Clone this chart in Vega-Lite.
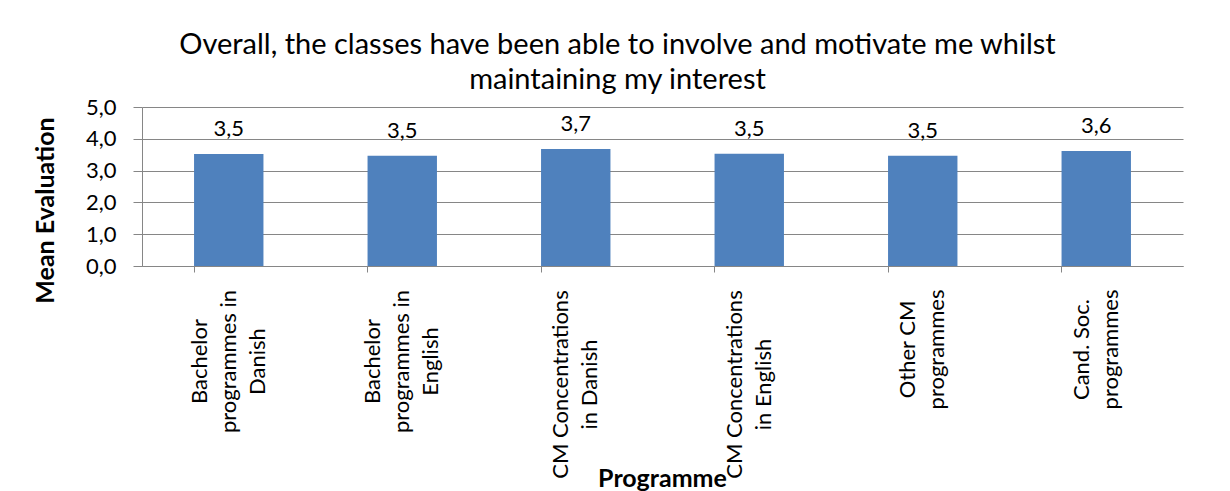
{
  "$schema": "https://vega.github.io/schema/vega-lite/v6.json",
  "autosize": "none",
  "width": 1041,
  "height": 159,
  "padding": {"left": 142, "top": 107, "right": 47, "bottom": 225},
  "background": "white",
  "config": {
    "font": "Lato",
    "view": {"stroke": null},
    "locale": {"number": {"decimal": ",", "thousands": ".", "grouping": [3], "currency": ["", " kr."]}}
  },
  "title": {
    "text": ["Overall, the classes have been able to involve and motivate me whilst", "maintaining my interest"],
    "fontSize": 29,
    "fontWeight": "normal",
    "font": "Lato",
    "color": "black",
    "anchor": "middle",
    "dx": -45,
    "lineHeight": 35,
    "offset": 1
  },
  "data": {
    "values": [
      {"programme": "Bachelor programmes in Danish", "mean": 3.52},
      {"programme": "Bachelor programmes in English", "mean": 3.47},
      {"programme": "CM Concentrations in Danish", "mean": 3.68},
      {"programme": "CM Concentrations in English", "mean": 3.53},
      {"programme": "Other CM programmes", "mean": 3.47},
      {"programme": "Cand. Soc. programmes", "mean": 3.62}
    ]
  },
  "encoding": {
    "x": {
      "field": "programme",
      "type": "nominal",
      "sort": null,
      "scale": {"paddingInner": 0.6, "paddingOuter": 0.3},
      "axis": {
        "title": "Programme",
        "titleFontSize": 25,
        "titleFontWeight": "bold",
        "titleColor": "black",
        "titleX": 520,
        "titleY": 212,
        "titleBaseline": "middle",
        "titleAlign": "center",
        "labelExpr": "split(replace(replace(replace(replace(datum.label,'Bachelor programmes in ','Bachelor|programmes in|'),'CM Concentrations in ','CM Concentrations|in '),'Other CM programmes','Other CM|programmes'),'Cand. Soc. programmes','Cand. Soc.|programmes'),'|')",
        "labelAngle": -90,
        "labelAlign": "center",
        "labelBaseline": "middle",
        "labelFontSize": 22,
        "labelLineHeight": 29,
        "labelColor": "black",
        "labelPadding": {
          "condition": [
            {"test": "indexof(datum.value,'Bachelor')==0", "value": 89},
            {"test": "indexof(datum.value,'CM Conc')==0", "value": 112}
          ],
          "value": 77
        },
        "labelOffset": {
          "condition": {"test": "indexof(datum.value,'Bachelor')==0", "value": -29},
          "value": -14.5
        },
        "labelLimit": 0,
        "tickSize": 6,
        "tickColor": "#868686",
        "domainColor": "#868686",
        "bandPosition": 0,
        "grid": false
      }
    },
    "y": {
      "field": "mean",
      "type": "quantitative",
      "scale": {"domain": [0, 5]},
      "axis": {
        "title": "Mean Evaluation",
        "titleFontSize": 25,
        "titleFontWeight": "bold",
        "titleColor": "black",
        "titleX": -97,
        "titleY": 103,
        "titleAngle": -90,
        "titleAlign": "center",
        "titleBaseline": "middle",
        "values": [0, 1, 2, 3, 4, 5],
        "format": ".1f",
        "labelFontSize": 22,
        "labelColor": "black",
        "labelPadding": 17,
        "tickSize": 9,
        "tickColor": "#868686",
        "domainColor": "#868686",
        "gridColor": "#868686",
        "gridOpacity": 1
      }
    }
  },
  "layer": [
    {"mark": {"type": "bar", "color": "#4F81BD"}},
    {
      "mark": {"type": "text", "fontSize": 22, "baseline": "alphabetic", "dy": -18, "color": "black"},
      "encoding": {"text": {"field": "mean", "type": "quantitative", "format": ".1f"}}
    }
  ]
}
